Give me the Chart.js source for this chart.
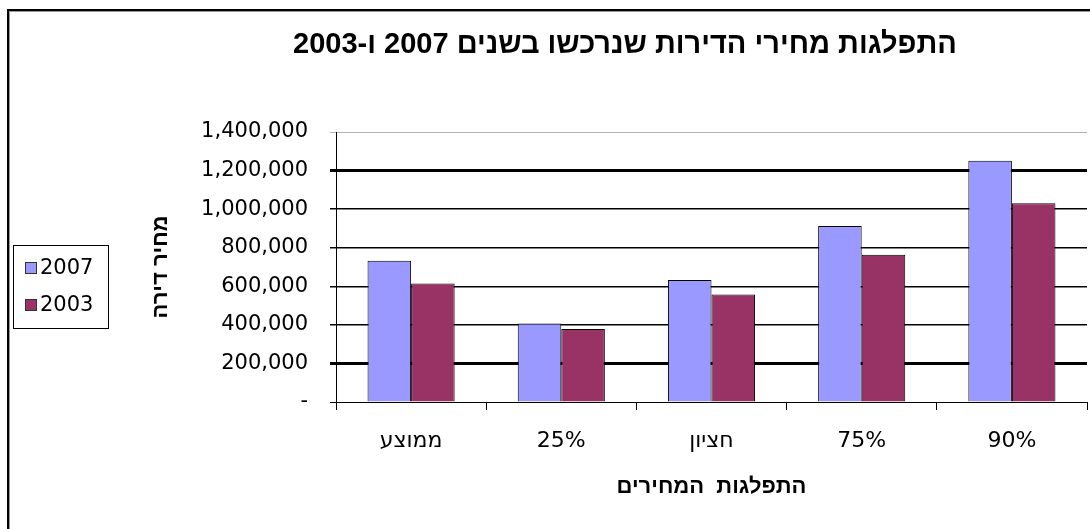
<!DOCTYPE html>
<html lang="he">
<head>
<meta charset="utf-8">
<script src="https://cdn.jsdelivr.net/npm/chart.js@4/dist/chart.umd.min.js"></script>
<style>
html,body{margin:0;padding:0;background:#fff;}
canvas{display:block;}
</style>
</head>
<body>
<canvas id="c" width="1090" height="529"></canvas>
<script>
const chartTitle = 'התפלגות מחירי הדירות שנרכשו בשנים 2007 ו-2003';
const xTitle = 'התפלגות  המחירים';
const yTitle = 'מחיר דירה';
const categories = ['ממוצע', '25%', 'חציון', '75%', '90%'];
const seriesNames = ['2007', '2003'];
const values2007 = [733000, 407000, 632000, 912000, 1251000];
const values2003 = [615000, 378000, 557000, 764000, 1031000];
const yTickValues = [0, 200000, 400000, 600000, 800000, 1000000, 1200000, 1400000];
const yTickLabels = ['-', '200,000', '400,000', '600,000', '800,000', '1,000,000', '1,200,000', '1,400,000'];
const colors = ['#9999FF', '#993366'];

const FONT = '"Liberation Sans", Arial, sans-serif';
const TFONT = '"DejaVu Sans", Verdana, sans-serif';

const framePlugin = {
  id: 'frame',
  afterDraw(chart) {
    const ctx = chart.ctx;
    ctx.save();
    // outer border (top and left)
    ctx.fillStyle = '#000';
    ctx.fillRect(7, 9, 1083, 2);
    ctx.fillRect(7, 9, 2, 520);
    ctx.fillStyle = '#9a9a9a';
    ctx.fillRect(9, 11, 1081, 1);
    ctx.fillRect(9, 11, 1, 518);
    // title
    ctx.fillStyle = '#000';
    ctx.font = 'bold 29px ' + FONT;
    ctx.direction = 'rtl';
    ctx.textAlign = 'center';
    ctx.textBaseline = 'middle';
    ctx.fillText(chartTitle, 625, 45);
    // legend
    ctx.direction = 'ltr';
    ctx.strokeStyle = '#000';
    ctx.lineWidth = 1;
    ctx.strokeRect(13.5, 245.5, 95, 83);
    ctx.font = '21px ' + TFONT;
    ctx.textAlign = 'left';
    const ys = [268, 305];
    chart.data.datasets.forEach((ds, i) => {
      ctx.fillStyle = ds.backgroundColor;
      ctx.fillRect(25, ys[i] - 5, 11, 11);
      ctx.strokeStyle = '#333';
      ctx.strokeRect(25.5, ys[i] - 5.5, 11, 11);
      ctx.fillStyle = '#000';
      ctx.fillText(ds.label, 40, ys[i] + 1);
    });
    ctx.restore();
  }
};

new Chart(document.getElementById('c'), {
  type: 'bar',
  data: {
    labels: categories,
    datasets: [
      { label: seriesNames[0], data: values2007, backgroundColor: colors[0], borderColor: '#000', borderWidth: 1 },
      { label: seriesNames[1], data: values2003, backgroundColor: colors[1], borderColor: '#000', borderWidth: 1 }
    ]
  },
  options: {
    responsive: false,
    animation: false,
    devicePixelRatio: 1,
    layout: { padding: { left: 146, top: 132, right: 3, bottom: 25 } },
    datasets: { bar: { barPercentage: 1, categoryPercentage: 0.58 } },
    plugins: {
      legend: { display: false },
      title: { display: false },
      tooltip: { enabled: false }
    },
    scales: {
      x: {
        afterFit(scale) { scale.height = 529 - 25 - 402; },
        grid: { offset: true, drawOnChartArea: false, color: '#000', tickLength: 8, lineWidth: 1 },
        border: { color: '#000', width: 1 },
        ticks: { color: '#000', font: { family: TFONT, size: 22 }, padding: 18, maxRotation: 0 },
        title: { display: true, text: xTitle, color: '#000', font: { family: FONT, size: 22, weight: 'bold' }, padding: { top: 4, bottom: 4 } }
      },
      y: {
        min: 0,
        max: 1400000,
        afterBuildTicks(scale) { scale.ticks = yTickValues.map(v => ({ value: v })); },
        afterFit(scale) { scale.width = 336 - 146; },
        grid: {
          color: c => (c.tick && c.tick.value === 1400000) ? '#b4b4b4' : '#000',
          lineWidth: c => {
            if (!c.tick) return 1;
            const v = c.tick.value;
            if (v === 200000 || v === 1200000) return 3;
            if (v === 0 || v === 1400000) return 1;
            return 1.5;
          },
          tickLength: 6
        },
        border: { color: '#000', width: 1 },
        ticks: {
          color: '#000',
          font: { family: TFONT, size: 21 },
          padding: 22,
          callback: (v) => yTickLabels[yTickValues.indexOf(v)]
        },
        title: { display: true, text: yTitle, color: '#000', font: { family: FONT, size: 22, weight: 'bold' }, padding: { top: 2, bottom: 4 } }
      }
    }
  },
  plugins: [framePlugin]
});
</script>
</body>
</html>
